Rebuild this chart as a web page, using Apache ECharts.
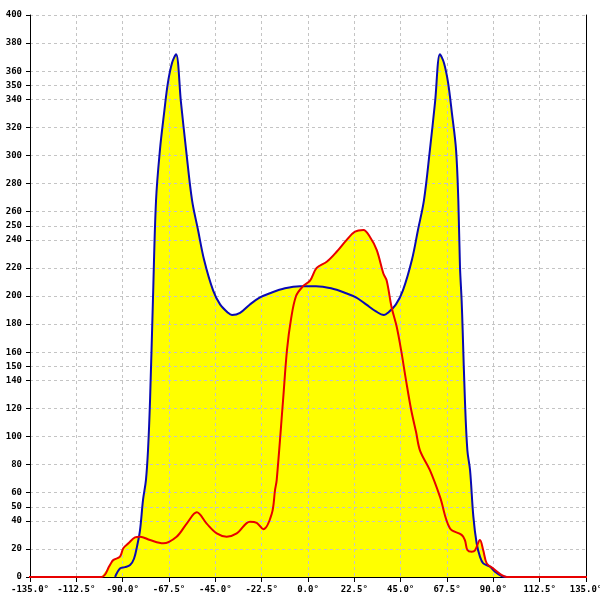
<!DOCTYPE html>
<html>
<head>
<meta charset="utf-8">
<script src="https://cdn.jsdelivr.net/npm/echarts@6/dist/echarts.min.js"></script>
<style>html,body{margin:0;padding:0;background:#fff}#c{width:600px;height:600px}</style>
</head>
<body>
<div id="c"></div>
<script>
const xTicksMin = -135, xTicksMax = 135, xStep = 22.5;
const yTickValues = [0,20,40,50,60,80,100,120,140,150,160,180,200,220,240,250,260,280,300,320,340,350,360,380,400];

const blueAngles = [-93.7,-91.3,-88.9,-86.4,-84.5,-83,-81.6,-80.1,-78.7,-77.7,-76.7,-75.3,-73.8,-71.9,-69.9,-68,-66,-64.1,
  -61.7,-59.2,-56.3,-53.4,-50.5,-46.1,-42.7,-38.8,-36.9,-33,-28.2,-23.3,-18.5,-11.2,-3.9,0,
  3.9,11.2,18.5,23.3,28.2,33,36.9,38.8,42.7,46.1,50.5,53.4,56.3,59.2,61.7,64.1,66,68,69.9,71.9,73,73.8,74.6,75.1,76.2,77.4,78.7,80.3,81.9,83.5,85.1,88.4,90.8,94.1,96.5];
const blueValues = [0,6,7,8.5,13,22,33,55,69,90,126,197,268,304,330,352,366,372,
  338,304,268,247,226,204,194,188,186.5,188,194,199,202,205.5,207,207,
  207,205.5,202,199,194,189,186.5,188,194,204,226,247,268,304,338,372,366,352,330,304,268,221,197,176,126,90,76,43,24,14.5,9.7,7.3,3.8,0.7,0];

const redAngles = [-150,-100.4,-96.2,-94.6,-91.3,-89.7,-87.2,-84,-81.6,-76.7,-70.3,-63.8,-58.9,-54,-49.2,-44.3,-39.5,-34.6,-28.2,-24.9,-21.7,-17.6,-16,-15.2,
  -12.1,-10.2,-8.3,-5.8,-2.4,1,4.2,9.1,13.9,18.8,22.8,26.9,30.1,33.4,36.6,38.2,40.6,43.1,45.2,47.6,50.1,52.5,54.4,59.2,64.1,68.9,74.6,76.2,77.4,79.5,81.1,83.5,85.1,86.8,90,94.1,96.5,150];
const redValues = [0,0,8.5,12,14.5,20.4,24,28.2,28.7,26.3,24,28.7,38,46,38,31,28.7,31,39.4,38.6,34,45,62,69,
  126,161.6,183,200,207,211,220,224.4,231.5,240,245.8,247,242,232.7,216,211,192,178,161.6,140,119,103,90,76,57,34.7,30,26.3,19.2,18,19,26.3,19,9.7,6,1.4,0,0];

const zip = (a, b) => a.map((v, i) => [v, b[i]]);
const blueData = zip(blueAngles, blueValues);
const redData = zip(redAngles, redValues);
const redAreaData = redData.filter(p => p[0] >= xTicksMin && p[0] <= xTicksMax);

const font = 'DejaVu Sans Mono';
const SM = 0.35;
const chart = echarts.init(document.getElementById('c'));
chart.setOption({
  animation: false,
  grid: { left: 30, right: 14, top: 15, bottom: 23, outerBoundsMode: 'none', containLabel: false },
  xAxis: {
    type: 'value', min: xTicksMin, max: xTicksMax, interval: xStep, z: 3,
    axisLine: { onZero: false, lineStyle: { color: '#000', width: 1 } },
    axisTick: { show: true, length: 5, lineStyle: { color: '#000' } },
    axisLabel: { color: '#000', fontFamily: font, fontSize: 9, fontWeight: 'bold', margin: 8, hideOverlap: false, formatter: v => v.toFixed(1) + '°' },
    splitLine: { show: true, lineStyle: { color: '#c4c4c4', type: [3, 3], width: 1 } }
  },
  yAxis: [{
    type: 'value', min: 0, max: 400, interval: 10, z: 3,
    axisLine: { show: true, onZero: false, lineStyle: { color: '#000', width: 1 } },
    axisTick: { show: true, length: 4, customValues: yTickValues, lineStyle: { color: '#000' } },
    axisLabel: { color: '#000', fontFamily: font, fontSize: 9, fontWeight: 'bold', margin: 8, customValues: yTickValues },
    splitLine: { show: true, lineStyle: { color: '#c4c4c4', type: [3, 3], width: 1 } }
  }, {
    type: 'value', min: 0, max: 400, position: 'right', z: 3,
    axisLine: { show: true, onZero: false, lineStyle: { color: '#000', width: 1 } },
    axisTick: { show: false }, axisLabel: { show: false }, splitLine: { show: false }
  }],
  series: [
    { type: 'line', data: blueData, z: 1, symbol: 'none', smooth: SM,
      lineStyle: { width: 0, opacity: 0 }, areaStyle: { color: '#ffff00', opacity: 1 } },
    { type: 'line', data: redAreaData, z: 1, symbol: 'none', smooth: SM,
      lineStyle: { width: 0, opacity: 0 }, areaStyle: { color: '#ffff00', opacity: 1 } },
    { type: 'line', data: blueData, z: 5, symbol: 'none', smooth: SM,
      lineStyle: { width: 2, color: '#0a0ab4' } },
    { type: 'line', data: redData, z: 6, symbol: 'none', smooth: SM, clip: false,
      lineStyle: { width: 2, color: '#e80000' } }
  ]
});
</script>
</body>
</html>
